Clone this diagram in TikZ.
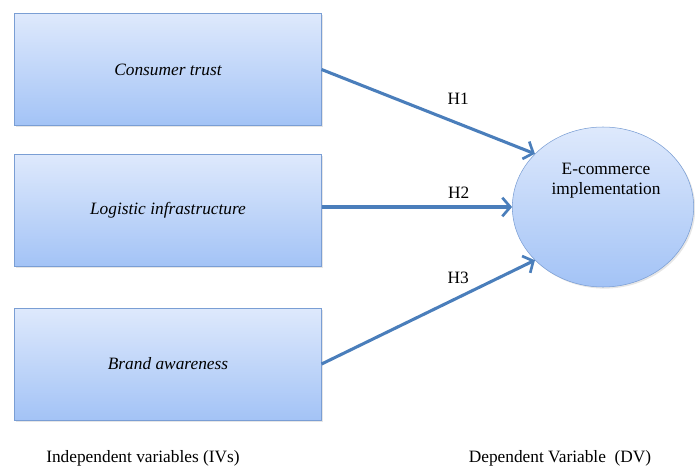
\documentclass[tikz,border=0pt]{standalone}
\usepackage{fontspec}
\setmainfont{Liberation Serif}
\usetikzlibrary{arrows.meta,shapes.geometric,shadows}
\definecolor{boxtop}{RGB}{222,233,252}
\definecolor{boxbot}{RGB}{163,195,246}
\definecolor{boxline}{RGB}{122,158,212}
\definecolor{arrowblue}{RGB}{74,126,187}

\begin{document}
\begin{tikzpicture}[x=0.75pt,y=-0.75pt]
  \tikzstyle{term}=[minimum width=230pt,minimum height=84pt,draw=boxline,
    top color=boxtop,bottom color=boxbot,
    drop shadow={shadow xshift=1.2pt,shadow yshift=-1.2pt,opacity=0.2},
    font=\fontsize{13}{15}\selectfont\itshape]
  \tikzstyle{dep}=[ellipse,minimum width=136pt,minimum height=120pt,draw=boxline,
    top color=boxtop,bottom color=boxbot,
    drop shadow={shadow xshift=1.2pt,shadow yshift=-1.2pt,opacity=0.2}]
  \tikzstyle{lab}=[font=\fontsize{13}{15}\selectfont,inner sep=1pt]
  \tikzstyle{hyp}=[draw=arrowblue,line width=2.3pt,
    -{Straight Barb[length=6pt,width=14pt,line width=2pt]}]

  \useasboundingbox (0,0) rectangle (695,467);

  \node [term] (trust) at (168,69.5) {Consumer trust} ;
  \node [term] (logis) at (168,210.5) {Logistic infrastructure} ;
  \node [term] (brand) at (168,364) {Brand awareness} ;

  \node [dep] (ecom) at (603,207) {} ;
  \node [lab,align=center] at (606,181) {E-commerce\\implementation} ;

  \draw [hyp] (trust.east) -- node[lab,pos=0.64,above=12pt] {H1} (ecom.142) ;
  \draw [hyp] (logis.east |- ecom.west) -- node[lab,pos=0.72,above=4pt] {H2} (ecom.west) ;
  \draw [hyp] (brand.east) -- node[lab,pos=0.64,above=8pt] {H3} (ecom.218) ;

  \node [lab] (ivs) at (143,458) {Independent variables (IVs)} ;
  \node [lab] (dvs) at (560,458) {Dependent Variable\ \ (DV)} ;

\end{tikzpicture}
\end{document}
